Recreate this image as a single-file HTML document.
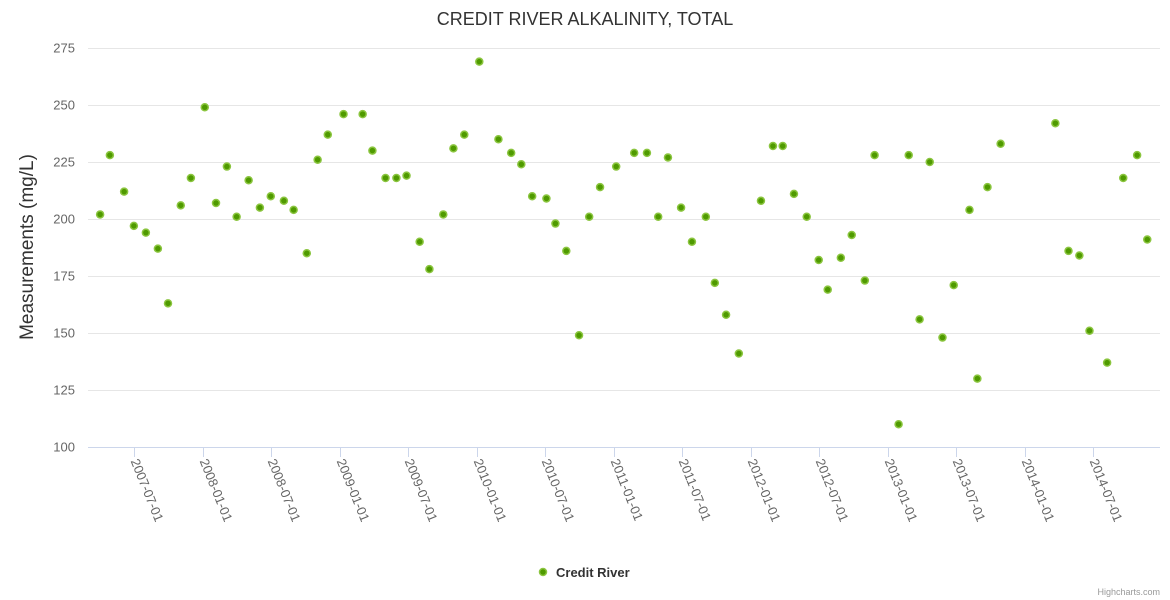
<!DOCTYPE html>
<html><head><meta charset="utf-8">
<style>
html,body{margin:0;padding:0;background:#fff;}
svg{display:block;font-family:"Liberation Sans",Arial,sans-serif;}
</style></head>
<body>
<svg id="chart" width="1170" height="600" viewBox="0 0 1170 600" xmlns="http://www.w3.org/2000/svg">
<text x="585" y="25" text-anchor="middle" font-size="18" fill="#333">CREDIT RIVER ALKALINITY, TOTAL</text>
<text transform="translate(33,247) rotate(-90)" text-anchor="middle" font-size="19" fill="#333">Measurements (mg/L)</text>
<g id="grid"></g>
<g id="yticks"></g>
<g id="xaxis"></g>
<g id="points"></g>
<g>
<circle cx="543" cy="572" r="3.5" fill="#4f9a00" stroke="#8bc53f" stroke-width="1.5"/>
<text x="556" y="577" font-size="13" font-weight="bold" fill="#333">Credit River</text>
</g>
<text x="1160" y="595" text-anchor="end" font-size="9" fill="#999">Highcharts.com</text>
</svg>
<script>
const dates = ["2007-03-30","2007-04-25","2007-06-02","2007-06-28","2007-07-30","2007-08-31","2007-09-27","2007-10-31","2007-11-27","2008-01-03","2008-02-02","2008-03-02","2008-03-28","2008-04-29","2008-05-29","2008-06-27","2008-08-01","2008-08-27","2008-10-01","2008-10-30","2008-11-26","2009-01-07","2009-02-27","2009-03-25","2009-04-29","2009-05-28","2009-06-24","2009-07-29","2009-08-24","2009-09-30","2009-10-27","2009-11-25","2010-01-04","2010-02-24","2010-03-30","2010-04-26","2010-05-25","2010-07-02","2010-07-26","2010-08-24","2010-09-27","2010-10-24","2010-11-22","2011-01-04","2011-02-21","2011-03-27","2011-04-26","2011-05-22","2011-06-26","2011-07-25","2011-08-31","2011-09-24","2011-10-24","2011-11-27","2012-01-25","2012-02-26","2012-03-23","2012-04-22","2012-05-26","2012-06-27","2012-07-21","2012-08-25","2012-09-23","2012-10-28","2012-11-23","2013-01-26","2013-02-22","2013-03-23","2013-04-19","2013-05-23","2013-06-22","2013-08-03","2013-08-24","2013-09-20","2013-10-25","2014-03-20","2014-04-24","2014-05-23","2014-06-19","2014-08-05","2014-09-17","2014-10-24","2014-11-20"];
const values = [202,228,212,197,194,187,163,206,218,249,207,223,201,217,205,210,208,204,185,226,237,246,246,230,218,218,219,190,178,202,231,237,269,235,229,224,210,209,198,186,149,201,214,223,229,229,201,227,205,190,201,172,158,141,208,232,232,211,201,182,169,183,193,173,228,110,228,156,225,148,171,204,130,214,233,242,186,184,151,137,218,228,191];
const yTicks = [100,125,150,175,200,225,250,275];
const xTicks = ["2007-07-01","2008-01-01","2008-07-01","2009-01-01","2009-07-01","2010-01-01","2010-07-01","2011-01-01","2011-07-01","2012-01-01","2012-07-01","2013-01-01","2013-07-01","2014-01-01","2014-07-01"];

const NS="http://www.w3.org/2000/svg";
const plotL=88, plotR=1160, yTop=48, yBot=447;
const t0=Date.parse("2007-07-01"), t1=Date.parse("2014-07-01");
function xs(d){return 135+(Date.parse(d)-t0)/(t1-t0)*(1094-135);}
function ys(v){return yBot-(v-100)/(275-100)*(yBot-yTop);}
function mk(tag,attrs,parent){const e=document.createElementNS(NS,tag);for(const k in attrs)e.setAttribute(k,attrs[k]);parent.appendChild(e);return e;}

const grid=document.getElementById('grid'), yt=document.getElementById('yticks');
yTicks.forEach(v=>{
  const y=Math.round(ys(v))+0.5;
  if(v!==100){const l=mk('line',{x1:plotL,x2:plotR,y1:y,y2:y,stroke:'#e6e6e6','stroke-width':1},grid);
  
  }
  const t=mk('text',{x:75,y:y+4,'text-anchor':'end','font-size':13,fill:'#666'},yt);
  
  
  t.textContent=v;
});
const xa=document.getElementById('xaxis');
mk('line',{x1:plotL,x2:plotR,y1:447.5,y2:447.5,stroke:'#ccd6eb','stroke-width':1},xa);
xTicks.forEach(d=>{
  const x=Math.round(xs(d))-0.5;
  const tk=mk('line',{x1:x,x2:x,y1:447,y2:457,stroke:'#ccd6eb','stroke-width':1},xa);
  
  
  const t=mk('text',{transform:`translate(${x-4},${461}) rotate(68)`,'font-size':13,fill:'#666'},xa);
  
  
  t.textContent=d;
});
const pts=document.getElementById('points');
dates.forEach((d,i)=>{
  const c=mk('circle',{cx:xs(d),cy:ys(values[i]),r:3.5,fill:'#4f9a00',stroke:'#8bc53f','stroke-width':1.5},pts);
  
  
});
</script>
</body></html>
